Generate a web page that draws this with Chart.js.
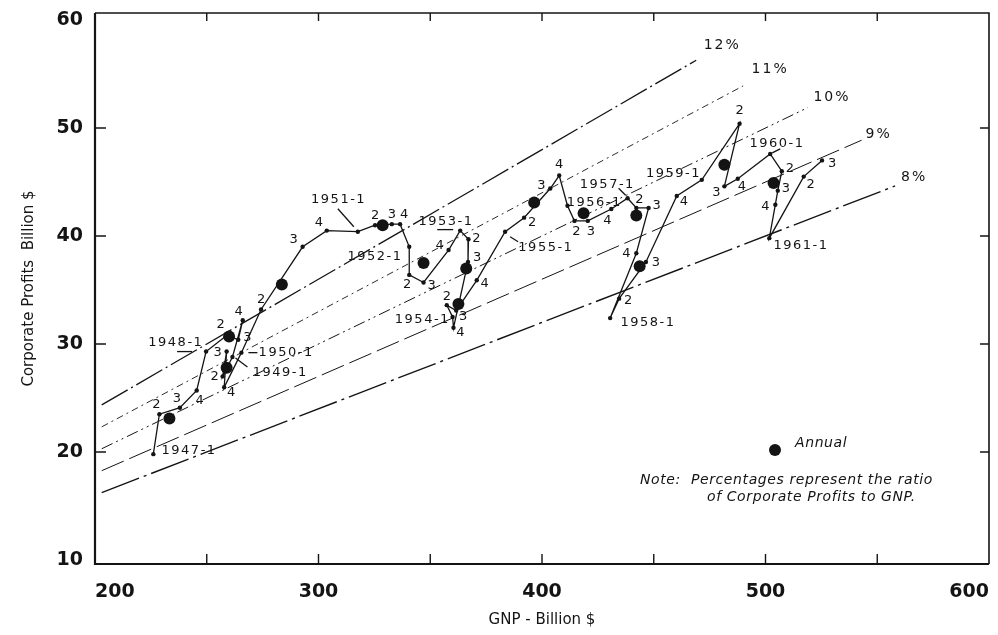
<!DOCTYPE html>
<html>
<head>
<meta charset="utf-8">
<script src="https://cdn.jsdelivr.net/npm/chart.js@4/dist/chart.umd.min.js"></script>
<style>
html, body { margin: 0; padding: 0; background: #fff; }
#wrap { width: 998px; height: 635px; }
</style>
</head>
<body>
<div id="wrap"><canvas id="chart" width="998" height="635"></canvas></div>
<script>
// quarterly periods, 1947-1 .. 1961-3
const periods = [
    "1947-1", "1947-2", "1947-3", "1947-4", "1948-1", "1948-2", "1948-3", "1948-4",
    "1949-1", "1949-2", "1949-3", "1949-4", "1950-1", "1950-2", "1950-3", "1950-4",
    "1951-1", "1951-2", "1951-3", "1951-4", "1952-1", "1952-2", "1952-3", "1952-4",
    "1953-1", "1953-2", "1953-3", "1953-4", "1954-1", "1954-2", "1954-3", "1954-4",
    "1955-1", "1955-2", "1955-3", "1955-4", "1956-1", "1956-2", "1956-3", "1956-4",
    "1957-1", "1957-2", "1957-3", "1957-4", "1958-1", "1958-2", "1958-3", "1958-4",
    "1959-1", "1959-2", "1959-3", "1959-4", "1960-1", "1960-2", "1960-3", "1960-4",
    "1961-1", "1961-2", "1961-3"
];
const gnpQuarterly = [
    226.1, 228.8, 238.0, 245.5, 249.7, 258.9, 264.1, 266.1,
    261.5, 257.1, 258.9, 257.8, 265.5, 274.3, 292.9, 303.7,
    317.6, 325.3, 332.8, 336.5, 340.6, 340.6, 347.0, 358.2,
    363.4, 367.1, 366.9, 360.4, 360.0, 357.4, 361.6, 370.8,
    383.5, 392.0, 403.7, 407.7, 411.4, 414.5, 420.5, 431.0,
    438.3, 442.2, 447.7, 442.2, 430.5, 434.5, 446.5, 460.3,
    471.5, 488.4, 481.6, 487.6, 502.1, 507.3, 505.5, 504.4,
    501.7, 517.1, 525.3
];
const profitsQuarterly = [
    19.8, 23.5, 24.1, 25.7, 29.3, 30.8, 30.4, 32.2,
    28.8, 27.0, 29.3, 26.0, 29.2, 33.2, 39.0, 40.5,
    40.4, 41.0, 41.1, 41.1, 39.0, 36.4, 35.7, 38.7,
    40.5, 39.7, 37.6, 31.5, 32.5, 33.6, 33.1, 35.9,
    40.4, 41.7, 44.4, 45.6, 42.8, 41.4, 41.4, 42.5,
    43.5, 42.6, 42.6, 38.4, 32.4, 34.2, 37.6, 43.7,
    45.2, 50.4, 44.6, 45.3, 47.6, 46.0, 44.2, 42.9,
    39.8, 45.5, 47.0
];

const annualYears = [1947, 1948, 1949, 1950, 1951, 1952, 1953, 1954, 1955, 1956, 1957, 1958, 1959, 1960];
const gnpAnnual = [233.3, 260.0, 258.9, 283.6, 328.7, 347.0, 366.1, 362.6, 396.5, 418.6, 442.2, 443.7, 481.6, 503.6];
const profitsAnnual = [23.1, 30.7, 27.8, 35.5, 41.0, 37.5, 37.0, 33.7, 43.1, 42.1, 41.9, 37.2, 46.6, 44.9];

// constant ratio lines: profits = pct% of GNP
const ratioPercents = [12, 11, 10, 9, 8];
const ratioStartGnp = [203, 203, 203, 203, 203];
const ratioEndGnp = [469, 490, 519, 543, 558];

const yTickValues = [10, 20, 30, 40, 50, 60];

const ink = "#141414";
const labelFont = "13px 'DejaVu Sans'";

// quarter number marks: [index into periods, dx, dy]
const quarterMarks = [
    [1, -3, -10], [2, -3, -9], [3, 3, 10],
    [5, -6, -11], [6, 9, -2], [7, -4, -9],
    [9, -8, 0], [10, -9, 1], [11, 7, 5],
    [13, 0, -10], [14, -9, -7], [15, -8, -8],
    [17, 0, -10], [18, 0, -10], [19, 4, -10],
    [21, -2, 10], [22, 8, 3], [23, -9, -4],
    [25, 8, -1], [26, 9, -4], [27, 7, 5],
    [29, 0, -9], [30, 7, 6], [31, 8, 3],
    [33, 8, 5], [34, -9, -3], [35, 0, -11],
    [37, 2, 11], [38, 3, 11], [39, -4, 12],
    [41, 3, -8], [42, 8, -2], [43, -10, 0],
    [45, 9, 2], [46, 10, 1], [47, 7, 6],
    [49, 0, -13], [50, -8, 6], [51, 4, 8],
    [53, 8, -3], [54, 8, -2], [55, -10, 2],
    [57, 7, 8], [58, 10, 3]
];

// first-quarter labels: [index, dx, dy, pointer segment or null]
const yearMarks = [
    [0, 35, -4, null],
    [4, -31, -9, [-29, 0, -14, 0]],
    [8, 47, 16, [3, 1, 15, 10]],
    [12, 44, 0, [7, 0, 16, 0]],
    [16, -20, -32, [-20, -23, -4, -5]],
    [20, -35, 10, null],
    [24, -15, -9, [-23, -1, -7, -1]],
    [28, -31, 3, null],
    [32, 40, 16, [5, 5, 13, 10]],
    [36, 26, -3, null],
    [40, -21, -14, [-9, -10, -2, -3]],
    [44, 37, 5, null],
    [48, -29, -6, null],
    [52, 6, -10, [10, -5, 2, -1]],
    [56, 31, 7, null]
];

// ratio label offsets from line end
const ratioLabelOffsets = [[25, -15], [26, -17], [23, -10], [16, -6], [18, -9]];
const ratioDashes = [[30, 4, 2, 4], [7, 4, 2, 4], [12, 4, 2, 4, 2, 4], [24, 6], [40, 5, 3, 5]];
const ratioWidths = [1.3, 0.9, 1.0, 1.0, 1.4];

function spacedText(ctx, text, cx, cy, spacing) {
    ctx.letterSpacing = spacing + "px";
    ctx.textAlign = "center";
    ctx.textBaseline = "middle";
    ctx.fillText(text, cx + spacing / 2, cy);
}

const inkPlugin = {
    id: "ink",
    afterDraw(chart) {
        const ctx = chart.ctx;
        const a = chart.chartArea;
        const x = chart.scales.x;
        const y = chart.scales.y;
        ctx.save();
        ctx.strokeStyle = ink;
        ctx.fillStyle = ink;

        // frame
        ctx.lineWidth = 2.2;
        ctx.beginPath();
        ctx.moveTo(a.left, a.top);
        ctx.lineTo(a.left, a.bottom);
        ctx.lineTo(a.right, a.bottom);
        ctx.stroke();
        ctx.lineWidth = 1.6;
        ctx.beginPath();
        ctx.moveTo(a.left, a.top);
        ctx.lineTo(a.right, a.top);
        ctx.lineTo(a.right, a.bottom);
        ctx.stroke();

        // inward tick marks
        ctx.lineWidth = 1.4;
        x.ticks.forEach(function(t) {
            if (t.value <= x.min || t.value >= x.max) return;
            const p = x.getPixelForValue(t.value);
            ctx.beginPath();
            ctx.moveTo(p, a.bottom);
            ctx.lineTo(p, a.bottom - 10);
            ctx.moveTo(p, a.top);
            ctx.lineTo(p, a.top + 8);
            ctx.stroke();
        });
        y.ticks.forEach(function(t) {
            if (t.value <= 10 || t.value >= 60) return;
            const p = y.getPixelForValue(t.value);
            ctx.beginPath();
            ctx.moveTo(a.left, p);
            ctx.lineTo(a.left + 11, p);
            ctx.moveTo(a.right, p);
            ctx.lineTo(a.right - 9, p);
            ctx.stroke();
        });

        // ratio labels
        ctx.font = "14px 'DejaVu Sans'";
        for (let i = 0; i < ratioPercents.length; ++i) {
            const gx = ratioEndGnp[i];
            const px = x.getPixelForValue(gx);
            const py = y.getPixelForValue(gx * ratioPercents[i] / 100);
            spacedText(ctx, ratioPercents[i] + "%", px + ratioLabelOffsets[i][0], py + ratioLabelOffsets[i][1], 2);
        }

        // quarter numbers
        ctx.font = labelFont;
        quarterMarks.forEach(function(m) {
            const px = x.getPixelForValue(gnpQuarterly[m[0]]);
            const py = y.getPixelForValue(profitsQuarterly[m[0]]);
            spacedText(ctx, periods[m[0]].slice(-1), px + m[1], py + m[2], 1);
        });

        // year-quarter labels with pointers
        ctx.lineWidth = 1.3;
        yearMarks.forEach(function(m) {
            const px = x.getPixelForValue(gnpQuarterly[m[0]]);
            const py = y.getPixelForValue(profitsQuarterly[m[0]]);
            spacedText(ctx, periods[m[0]], px + m[1], py + m[2], 1.5);
            if (m[3]) {
                ctx.beginPath();
                ctx.moveTo(px + m[3][0], py + m[3][1]);
                ctx.lineTo(px + m[3][2], py + m[3][3]);
                ctx.stroke();
            }
        });

        // legend and note
        ctx.letterSpacing = "0.6px";
        const lx = a.right - 214;
        const ly = a.bottom - 114;
        ctx.beginPath();
        ctx.arc(lx, ly, 6, 0, Math.PI * 2);
        ctx.fill();
        ctx.font = "italic 14px 'DejaVu Sans'";
        ctx.textAlign = "left";
        ctx.textBaseline = "middle";
        ctx.fillText("Annual", lx + 20, ly - 7);
        ctx.fillText("Note:  Percentages represent the ratio", a.right - 349, a.bottom - 84);
        ctx.fillText("of Corporate Profits to GNP.", a.right - 282, a.bottom - 67);
        ctx.restore();
    }
};

function buildDatasets() {
    const sets = [];
    for (let i = 0; i < ratioPercents.length; ++i) {
        sets.push({
            type: "line",
            data: [
                { x: ratioStartGnp[i], y: ratioStartGnp[i] * ratioPercents[i] / 100 },
                { x: ratioEndGnp[i], y: ratioEndGnp[i] * ratioPercents[i] / 100 }
            ],
            borderColor: ink,
            borderWidth: ratioWidths[i],
            borderDash: ratioDashes[i],
            pointRadius: 0,
            fill: false
        });
    }
    sets.push({
        type: "line",
        data: gnpQuarterly.map(function(g, i) { return { x: g, y: profitsQuarterly[i] }; }),
        borderColor: ink,
        borderWidth: 1.3,
        pointRadius: 2.2,
        pointBackgroundColor: ink,
        pointBorderWidth: 0,
        tension: 0,
        fill: false
    });
    sets.push({
        type: "scatter",
        data: gnpAnnual.map(function(g, i) { return { x: g, y: profitsAnnual[i] }; }),
        backgroundColor: ink,
        borderWidth: 0,
        pointRadius: 6,
        showLine: false
    });
    return sets;
}

const chart = new Chart(document.getElementById("chart").getContext("2d"), {
    type: "scatter",
    data: { datasets: buildDatasets() },
    plugins: [inkPlugin],
    options: {
        responsive: false,
        animation: false,
        events: [],
        layout: { padding: { top: 13, right: 9, left: 0, bottom: 0 } },
        plugins: { legend: { display: false }, tooltip: { enabled: false } },
        scales: {
            x: {
                type: "linear",
                min: 200,
                max: 600,
                grid: { display: false, drawTicks: false },
                border: { display: false },
                ticks: {
                    stepSize: 50,
                    autoSkip: false,
                    maxRotation: 0,
                    align: "inner",
                    padding: 17,
                    color: ink,
                    font: { family: "DejaVu Sans", size: 19, weight: "bold" },
                    callback: function(v) { return v % 100 === 0 ? String(v) : ""; }
                },
                title: {
                    display: true,
                    text: "GNP - Billion $",
                    color: ink,
                    font: { family: "DejaVu Sans", size: 15 },
                    padding: { top: 0, bottom: 6 }
                },
                afterFit: function(scale) {
                    scale.height = 71;
                    scale.paddingLeft = 0;
                    scale.paddingRight = 0;
                }
            },
            y: {
                type: "linear",
                min: 9.63,
                max: 60.65,
                grid: { display: false, drawTicks: false },
                border: { display: false },
                afterBuildTicks: function(scale) {
                    scale.ticks = yTickValues.map(function(v) { return { value: v }; });
                },
                ticks: {
                    padding: 12,
                    color: ink,
                    font: { family: "DejaVu Sans", size: 19, weight: "bold" }
                },
                title: {
                    display: true,
                    text: "Corporate Profits  Billion $",
                    color: ink,
                    font: { family: "DejaVu Sans", size: 15 },
                    padding: { top: 20, bottom: 0 }
                },
                afterFit: function(scale) {
                    scale.width = 95;
                    scale.paddingTop = 0;
                    scale.paddingBottom = 0;
                }
            }
        }
    }
});
</script>
</body>
</html>
